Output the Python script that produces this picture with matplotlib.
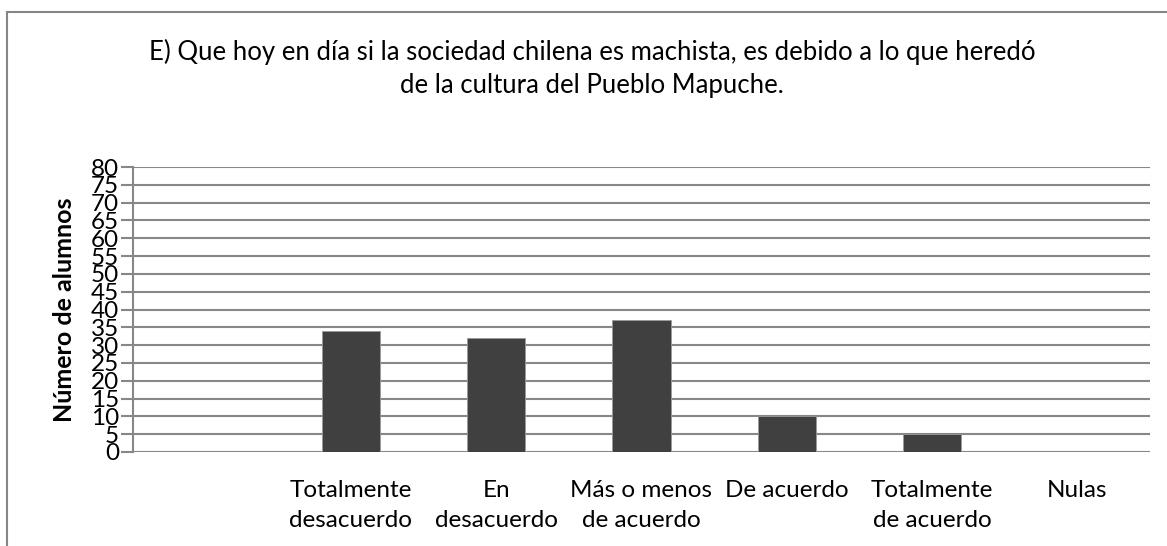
import matplotlib
matplotlib.use("Agg")
import matplotlib.pyplot as plt
from matplotlib.patches import Rectangle

categorias = ["", "Totalmente\ndesacuerdo", "En\ndesacuerdo", "Más o menos\nde acuerdo",
              "De acuerdo", "Totalmente\nde acuerdo", "Nulas"]
alumnos = [0, 34, 32, 37, 10, 5, 0]
yticks = list(range(0, 81, 5))

titulo = ("E) Que hoy en día si la sociedad chilena es machista, es debido a lo que heredó\n"
          "de la cultura del Pueblo Mapuche.")

plt.rcParams["font.family"] = ["Lato", "DejaVu Sans"]
W, H = 1167, 546
fig = plt.figure(figsize=(W / 100, H / 100), dpi=100)
ax = fig.add_axes([133 / W, 94 / H, (1150 - 133) / W, (452 - 167) / H])

x = range(len(categorias))
ax.bar(x, alumnos, width=0.4, color="#404040", edgecolor="#9a9a9a", linewidth=0.6, zorder=3)

ax.set_xlim(-0.5, len(categorias) - 0.5)
ax.set_ylim(0, 80)
ax.set_yticks(yticks)
ax.set_xticks(list(x))
ax.set_xticklabels(categorias, fontsize=17.5, linespacing=1.55)
ax.tick_params(axis="x", length=0, pad=20)
ax.tick_params(axis="y", length=9, width=1.5, color="#878787", labelsize=17.5, pad=1)
ax.grid(axis="y", color="#878787", linewidth=1.5, zorder=0)

for s in ["top", "right", "bottom"]:
    ax.spines[s].set_visible(False)
ax.spines["left"].set_color("#878787")
ax.spines["left"].set_linewidth(1.5)

ax.set_ylabel("Número de alumnos", fontsize=18, fontweight="bold", labelpad=11)

fig.text(592 / W, 1 - 68 / H, titulo, ha="center", va="center", fontsize=18.5, linespacing=1.4)

# borde del área del gráfico (recortado a la derecha y abajo)
fig.patches.append(Rectangle((7 / W, -0.1), 1.2, (H - 12) / H + 0.1, transform=fig.transFigure,
                             fill=False, edgecolor="#868686", linewidth=1.5))

fig.savefig("out.png", dpi=100)
